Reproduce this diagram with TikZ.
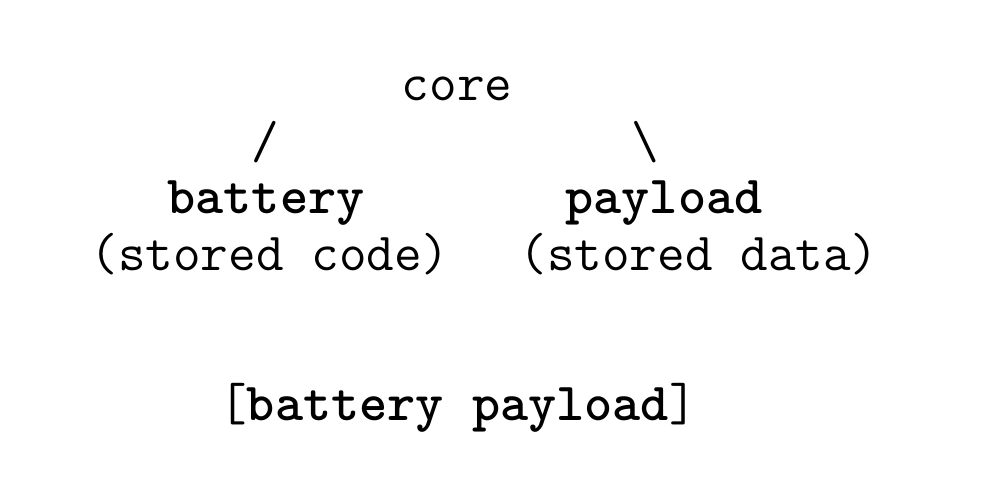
\documentclass[tikz,border=0pt]{standalone}
\begin{document}
\begin{tikzpicture}[x=0.5pt,y=-0.5pt,
  txt/.style={inner sep=0pt, anchor=base, font=\fontsize{26.8}{31}\selectfont\ttfamily},
  kw/.style={txt, font=\fontsize{26.8}{31}\selectfont\ttfamily\bfseries}]
\useasboundingbox (0,0) rectangle (982,500);
\node[txt] (core) at (457,100) {core};
\node[txt] (sl) at (265,158) {/};
\node[txt] (bs) at (645,158) {\textbackslash};
\node[kw] (bat) at (266,213) {battery};
\node[kw] (pay) at (664,213) {payload};
\node[txt] (code) at (270,270) {(stored code)};
\node[txt] (data) at (699,270) {(stored data)};
\node[txt] (both) at (458,420) {[\textbf{battery payload}]};
\end{tikzpicture}
\end{document}
